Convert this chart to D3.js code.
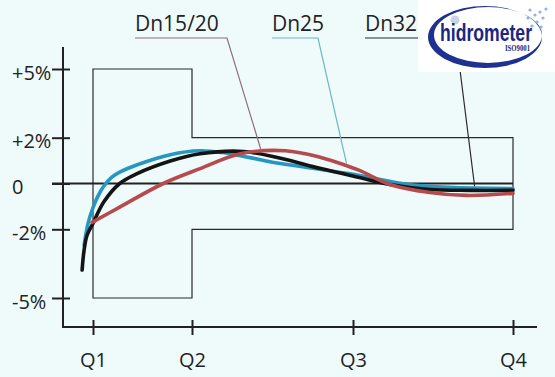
<!DOCTYPE html>
<html>
<head>
<meta charset="utf-8">
<script src="https://cdn.jsdelivr.net/npm/d3@7"></script>
<style>
	body { margin: 0; background: #effbfb; }
	svg { display: block; }
	text { font-family: "Open Sans", sans-serif; fill: #222; }
</style>
</head>
<body>
<svg width="555" height="377"></svg>
<script>
// flow points on the x axis (Q1..Q4)
var categories = ['Q1', 'Q2', 'Q3', 'Q4'];
var catQ = [1, 2, 3, 4];

// y ticks (error %)
var yTicks = [-5, -2, 0, 2, 5];
var yLabels = ['-5%', '-2%', '0', '+2%', '+5%'];

// max permissible error envelope: [from Q, to Q, limit %]
var envFrom = [1, 2];
var envTo = [2, 4];
var envLimit = [5, 2];

// error curves (x in Q units, y in %)
var dn32Q   = [0.89, 0.91, 0.94, 1.0, 1.11, 1.27, 1.44, 1.78, 2.05, 2.32, 2.55, 2.8, 3.04, 3.23, 3.48, 3.73, 4.0];
var dn32Err = [-3.78, -2.91, -2.26, -1.74, -0.8, 0, 0.42, 0.98, 1.3, 1.40, 1.1, 0.65, 0.26, -0.04, -0.26, -0.3, -0.3];

var dn25Q   = [0.91, 0.95, 1.0, 1.05, 1.11, 1.19, 1.27, 1.44, 1.78, 2.05, 2.19, 2.36, 2.55, 2.8, 3.04, 3.17, 3.34, 3.6, 4.0];
var dn25Err = [-2.7, -1.74, -1.05, -0.55, -0.11, 0.28, 0.5, 0.81, 1.26, 1.43, 1.35, 1.13, 0.87, 0.61, 0.35, 0.17, -0.04, -0.17, -0.22];

var dn15Q   = [0.99, 1.27, 1.71, 2.05, 2.30, 2.58, 2.80, 2.96, 3.04, 3.23, 3.48, 3.71, 4.0];
var dn15Err = [-1.70, -1.03, 0, 0.65, 1.30, 1.43, 1.14, 0.78, 0.57, -0.04, -0.39, -0.52, -0.43];

// labels and where their leader lines touch the curves
var seriesNames = ['Dn15/20', 'Dn25', 'Dn32'];
var leaderQ = [2.43, 2.96, 3.76];
var leaderErr = [1.43, 0.87, -0.12];

var svg = d3.select('svg');

var x = d3.scaleLinear().domain(catQ).range([93, 192, 353, 513]);
var y = d3.scaleLinear().domain([-5, 5]).range([298, 69]);

var axisX = 63, axisY = 327;

// envelope polygon
var env = [];
envFrom.forEach(function(q, i) { env.push([q, envLimit[i]], [envTo[i], envLimit[i]]); });
for (var i = envFrom.length - 1; i >= 0; i--) env.push([envTo[i], -envLimit[i]], [envFrom[i], -envLimit[i]]);

svg.append('path')
	.attr('d', d3.line().x(function(d) { return x(d[0]); }).y(function(d) { return y(d[1]); })(env) + 'Z')
	.attr('fill', 'none')
	.attr('stroke', '#2a2a2a')
	.attr('stroke-width', 1.2);

// zero line
svg.append('line')
	.attr('x1', 52).attr('x2', x(4))
	.attr('y1', y(0)).attr('y2', y(0))
	.attr('stroke', '#222').attr('stroke-width', 1.8);

// y axis
var gy = svg.append('g')
	.attr('transform', 'translate(' + axisX + ',0)')
	.call(d3.axisLeft(y).tickValues(yTicks).tickFormat(function(d, i) { return yLabels[i]; }).tickSize(11));
gy.select('.domain').remove();
gy.selectAll('.tick line').attr('x1', 7).attr('stroke', '#222').attr('stroke-width', 2);
gy.selectAll('.tick text')
	.attr('x', -51).attr('dy', '0.5em')
	.attr('text-anchor', 'start')
	.style('font-size', '20px').style('font-family', '"Open Sans", sans-serif').style('fill', '#222');

// x axis
var gx = svg.append('g')
	.attr('transform', 'translate(0,' + axisY + ')')
	.call(d3.axisBottom(x).tickValues(catQ).tickFormat(function(d, i) { return categories[i]; }).tickSize(8));
gx.select('.domain').remove();
gx.selectAll('.tick line').attr('y1', -7).attr('stroke', '#222').attr('stroke-width', 2);
gx.selectAll('.tick text')
	.attr('y', 26)
	.style('font-size', '20px').style('font-family', '"Open Sans", sans-serif').style('fill', '#222');

// axis lines
svg.append('line').attr('x1', axisX).attr('x2', axisX).attr('y1', 47).attr('y2', axisY + 1)
	.attr('stroke', '#222').attr('stroke-width', 2);
svg.append('line').attr('x1', axisX - 1).attr('x2', 537).attr('y1', axisY).attr('y2', axisY)
	.attr('stroke', '#222').attr('stroke-width', 2);

// curves
var line = d3.line()
	.x(function(d) { return x(d[0]); })
	.y(function(d) { return y(d[1]); })
	.curve(d3.curveCatmullRom.alpha(0.5));

var series = [
	{ q: dn25Q, e: dn25Err, color: '#2597c0' },
	{ q: dn32Q, e: dn32Err, color: '#141414' },
	{ q: dn15Q, e: dn15Err, color: '#b64a4c' }
];

series.forEach(function(s) {
	svg.append('path')
		.datum(d3.zip(s.q, s.e))
		.attr('d', line)
		.attr('fill', 'none')
		.attr('stroke', s.color)
		.attr('stroke-width', 3.6)
		.attr('stroke-linecap', 'round');
});

// labels with underline and leader line
var labelX = [135, 272, 365];
var underlineEnd = [227, 318, 456];
var leaderColor = ['#8c6f78', '#6fb5c2', '#2a2a2a'];

seriesNames.forEach(function(name, i) {
	svg.append('text')
		.attr('x', labelX[i]).attr('y', 31)
		.style('font-size', '21px')
		.text(name);
	svg.append('polyline')
		.attr('points', [[labelX[i], 38], [underlineEnd[i], 38], [x(leaderQ[i]), y(leaderErr[i])]].join(' '))
		.attr('fill', 'none')
		.attr('stroke', leaderColor[i])
		.attr('stroke-width', 1.2);
});

// logo
var logo = svg.append('g');
logo.append('rect').attr('x', 418).attr('y', 0).attr('width', 137).attr('height', 72).attr('fill', '#fff');

function ellipsePath(cx, cy, rx, ry) {
	return 'M' + (cx - rx) + ',' + cy +
		'a' + rx + ',' + ry + ' 0 1,0 ' + (2 * rx) + ',0' +
		'a' + rx + ',' + ry + ' 0 1,0 ' + (-2 * rx) + ',0Z';
}
// crescent ring, thick at bottom-left
logo.append('path')
	.attr('d', ellipsePath(485, 37, 57, 31) + ellipsePath(488, 35, 54, 28))
	.attr('fill-rule', 'evenodd')
	.attr('fill', '#1e3190');
logo.append('circle').attr('cx', 455).attr('cy', 20).attr('r', 4.5).attr('fill', '#c9d2e6');
var dots = [[530, 10], [535, 15], [540, 12], [528, 18], [537, 22], [543, 18], [532, 26], [541, 27], [546, 9]];
dots.forEach(function(d) {
	logo.append('circle').attr('cx', d[0]).attr('cy', d[1]).attr('r', 1.6).attr('fill', '#8fb4e6');
});
logo.append('text')
	.attr('x', 440).attr('y', 41)
	.attr('textLength', 92).attr('lengthAdjust', 'spacingAndGlyphs')
	.style('font-family', '"Liberation Sans Narrow", "Liberation Sans", Arial, sans-serif')
	.style('font-weight', 'bold').style('font-size', '23px').style('fill', '#1b2682')
	.text('hidrometer');
logo.append('text')
	.attr('x', 505).attr('y', 51)
	.attr('textLength', 25).attr('lengthAdjust', 'spacingAndGlyphs')
	.style('font-family', '"Liberation Serif", serif')
	.style('font-weight', 'bold').style('font-size', '8px').style('fill', '#1b2682')
	.text('ISO9001');
</script>
</body>
</html>
